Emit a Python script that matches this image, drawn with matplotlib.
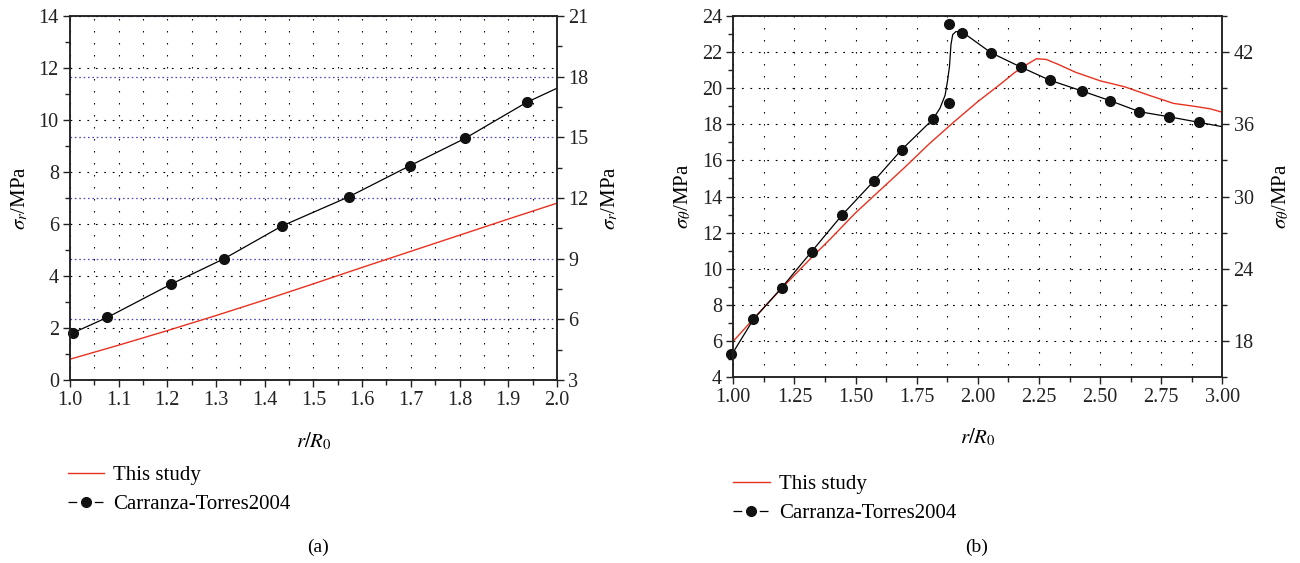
import matplotlib
matplotlib.use('Agg')
import matplotlib.pyplot as plt
from matplotlib.lines import Line2D
from matplotlib.ticker import MultipleLocator

plt.rcParams['font.family'] = ['Liberation Serif', 'DejaVu Serif']
plt.rcParams['mathtext.fontset'] = 'stix'
plt.rcParams['font.size'] = 14.5

# ---- (a) radial stress ----
a_study_x = [1.0, 1.1, 1.2, 1.3, 1.4, 1.5, 1.6, 1.7, 1.8, 1.9, 2.0]
a_study_y = [0.80, 1.34, 1.90, 2.48, 3.08, 3.70, 4.33, 4.95, 5.57, 6.19, 6.80]
a_ct_x = [1.007, 1.077, 1.207, 1.317, 1.435, 1.573, 1.698, 1.811, 1.938, 2.0]
a_ct_y = [1.82, 2.41, 3.68, 4.67, 5.92, 7.05, 8.24, 9.29, 10.68, 11.22]
a_mark_x = a_ct_x[:-1]
a_mark_y = a_ct_y[:-1]

# ---- (b) tangential stress ----
b_study_x = [1.0, 1.1, 1.2, 1.3, 1.4, 1.5, 1.6, 1.7, 1.8, 1.9, 2.0, 2.1, 2.15,
             2.2, 2.24, 2.28, 2.33, 2.4, 2.5, 2.6, 2.7, 2.8, 2.88, 2.95, 3.0]
b_study_y = [6.0, 7.5, 8.95, 10.35, 11.7, 13.1, 14.35, 15.6, 16.9, 18.1, 19.25,
             20.3, 20.85, 21.3, 21.62, 21.58, 21.3, 20.87, 20.4, 20.07, 19.6,
             19.15, 19.0, 18.85, 18.66]
b_ct_x = [1.0, 1.082, 1.198, 1.32, 1.445, 1.575, 1.689, 1.816, 1.845, 1.866,
          1.876, 1.884, 1.89, 1.897, 1.91, 1.934, 2.054, 2.177, 2.293, 2.425,
          2.541, 2.661, 2.782, 2.905, 3.0]
b_ct_y = [5.4, 7.2, 8.96, 10.95, 12.98, 14.86, 16.6, 18.27, 18.88, 19.6,
          20.4, 21.2, 22.4, 22.95, 23.12, 23.12, 21.95, 21.15, 20.44, 19.84,
          19.3, 18.69, 18.41, 18.10, 17.86]
b_mark_x = [0.99, 1.082, 1.198, 1.32, 1.445, 1.575, 1.689, 1.816, 1.884, 1.884,
            1.934, 2.054, 2.177, 2.293, 2.425, 2.541, 2.661, 2.782, 2.905]
b_mark_y = [5.27, 7.2, 8.96, 10.95, 12.98, 14.86, 16.6, 18.27, 19.15, 23.54,
            23.06, 21.95, 21.15, 20.44, 19.84, 19.3, 18.69, 18.41, 18.10]

red = '#e8321f'
blue = '#4b4bc3'
dark = '#222222'

fig = plt.figure(figsize=(13, 5.63), dpi=100)
axa = fig.add_axes([0.0538, 0.3250, 0.3746, 0.6466])
axb = fig.add_axes([0.5641, 0.3298, 0.3762, 0.6423])


def style(ax, twin):
    for a in (ax, twin):
        for s in a.spines.values():
            s.set_linewidth(1.1)
            s.set_color(dark)
        a.tick_params(which='major', direction='out', length=5, width=1.0,
                      colors=dark, labelsize=14.5, pad=3)
        a.tick_params(which='minor', direction='out', length=3.5, width=1.0,
                      colors=dark)
    ax.tick_params(top=False, right=False, which='both')
    twin.tick_params(left=False, which='both')
    ax.grid(True, which='both', axis='x', color='k', lw=0.8,
            linestyle=(0, (1.3, 9.5)))
    ax.grid(True, which='major', axis='y', color='k', lw=0.8,
            linestyle=(0, (1.6, 6.0)))
    ax.set_axisbelow(True)
    ax.set_zorder(twin.get_zorder() + 1)
    ax.patch.set_visible(False)


# panel (a)
twa = axa.twinx()
axa.plot(a_study_x, a_study_y, color=red, lw=1.0)
axa.plot(a_ct_x, a_ct_y, color='k', lw=0.9)
axa.plot(a_mark_x, a_mark_y, 'o', color='#111111', ms=7, clip_on=False)
axa.set_xlim(1.0, 2.0)
axa.set_ylim(0, 14)
axa.xaxis.set_major_locator(MultipleLocator(0.1))
axa.xaxis.set_minor_locator(MultipleLocator(0.05))
axa.yaxis.set_major_locator(MultipleLocator(2))
axa.yaxis.set_minor_locator(MultipleLocator(1))
axa.set_xticklabels([f'{v:.1f}' for v in axa.get_xticks()])
twa.set_ylim(3, 21)
twa.yaxis.set_major_locator(MultipleLocator(3))
twa.yaxis.set_minor_locator(MultipleLocator(1.5))
twa.grid(True, which='major', axis='y', color=blue, lw=0.9,
         linestyle=(0, (1.3, 2.2)))
style(axa, twa)
axa.set_xlabel(r'$r/R_0$', fontsize=15, labelpad=15)
axa.set_ylabel(r'$\sigma_r$/MPa', fontsize=15, labelpad=6)
twa.set_ylabel(r'$\sigma_r$/MPa', fontsize=15, labelpad=8)

# panel (b)
twb = axb.twinx()
axb.plot(b_study_x, b_study_y, color=red, lw=1.0)
axb.plot(b_ct_x, b_ct_y, color='k', lw=0.9)
axb.plot(b_mark_x, b_mark_y, 'o', color='#111111', ms=7, clip_on=False)
axb.set_xlim(1.0, 3.0)
axb.set_ylim(4, 24)
axb.xaxis.set_major_locator(MultipleLocator(0.25))
axb.xaxis.set_minor_locator(MultipleLocator(0.125))
axb.yaxis.set_major_locator(MultipleLocator(2))
axb.yaxis.set_minor_locator(MultipleLocator(1))
axb.set_xticklabels([f'{v:.2f}' for v in axb.get_xticks()])
twb.set_ylim(15, 45)
twb.yaxis.set_major_locator(MultipleLocator(6))
twb.yaxis.set_minor_locator(MultipleLocator(3))
style(axb, twb)
axb.set_xlabel(r'$r/R_0$', fontsize=15, labelpad=14)
axb.set_ylabel(r'$\sigma_\theta$/MPa', fontsize=15, labelpad=6)
twb.set_ylabel(r'$\sigma_\theta$/MPa', fontsize=15, labelpad=12)

# legends
h_study = Line2D([], [], color=red, lw=1.0)
h_ct = Line2D([], [], color='k', lw=0.9, dashes=(7.0, 14.0),
              marker='o', ms=7, markerfacecolor='#111111',
              markeredgecolor='#111111')
labels = ['This study', 'Carranza-Torres2004']
for x0, y0 in [(0.052, 0.173), (0.564, 0.157)]:
    fig.legend([h_study, h_ct], labels, loc='upper left',
               bbox_to_anchor=(x0, y0), frameon=False, fontsize=15,
               handlelength=1.75, handletextpad=0.45, labelspacing=0.45,
               borderpad=0, borderaxespad=0)

fig.text(318 / 1300, 1 - 547 / 563, '(a)', ha='center', va='center', fontsize=14)
fig.text(977 / 1300, 1 - 547 / 563, '(b)', ha='center', va='center', fontsize=14)

fig.savefig('out.png', dpi=100)
